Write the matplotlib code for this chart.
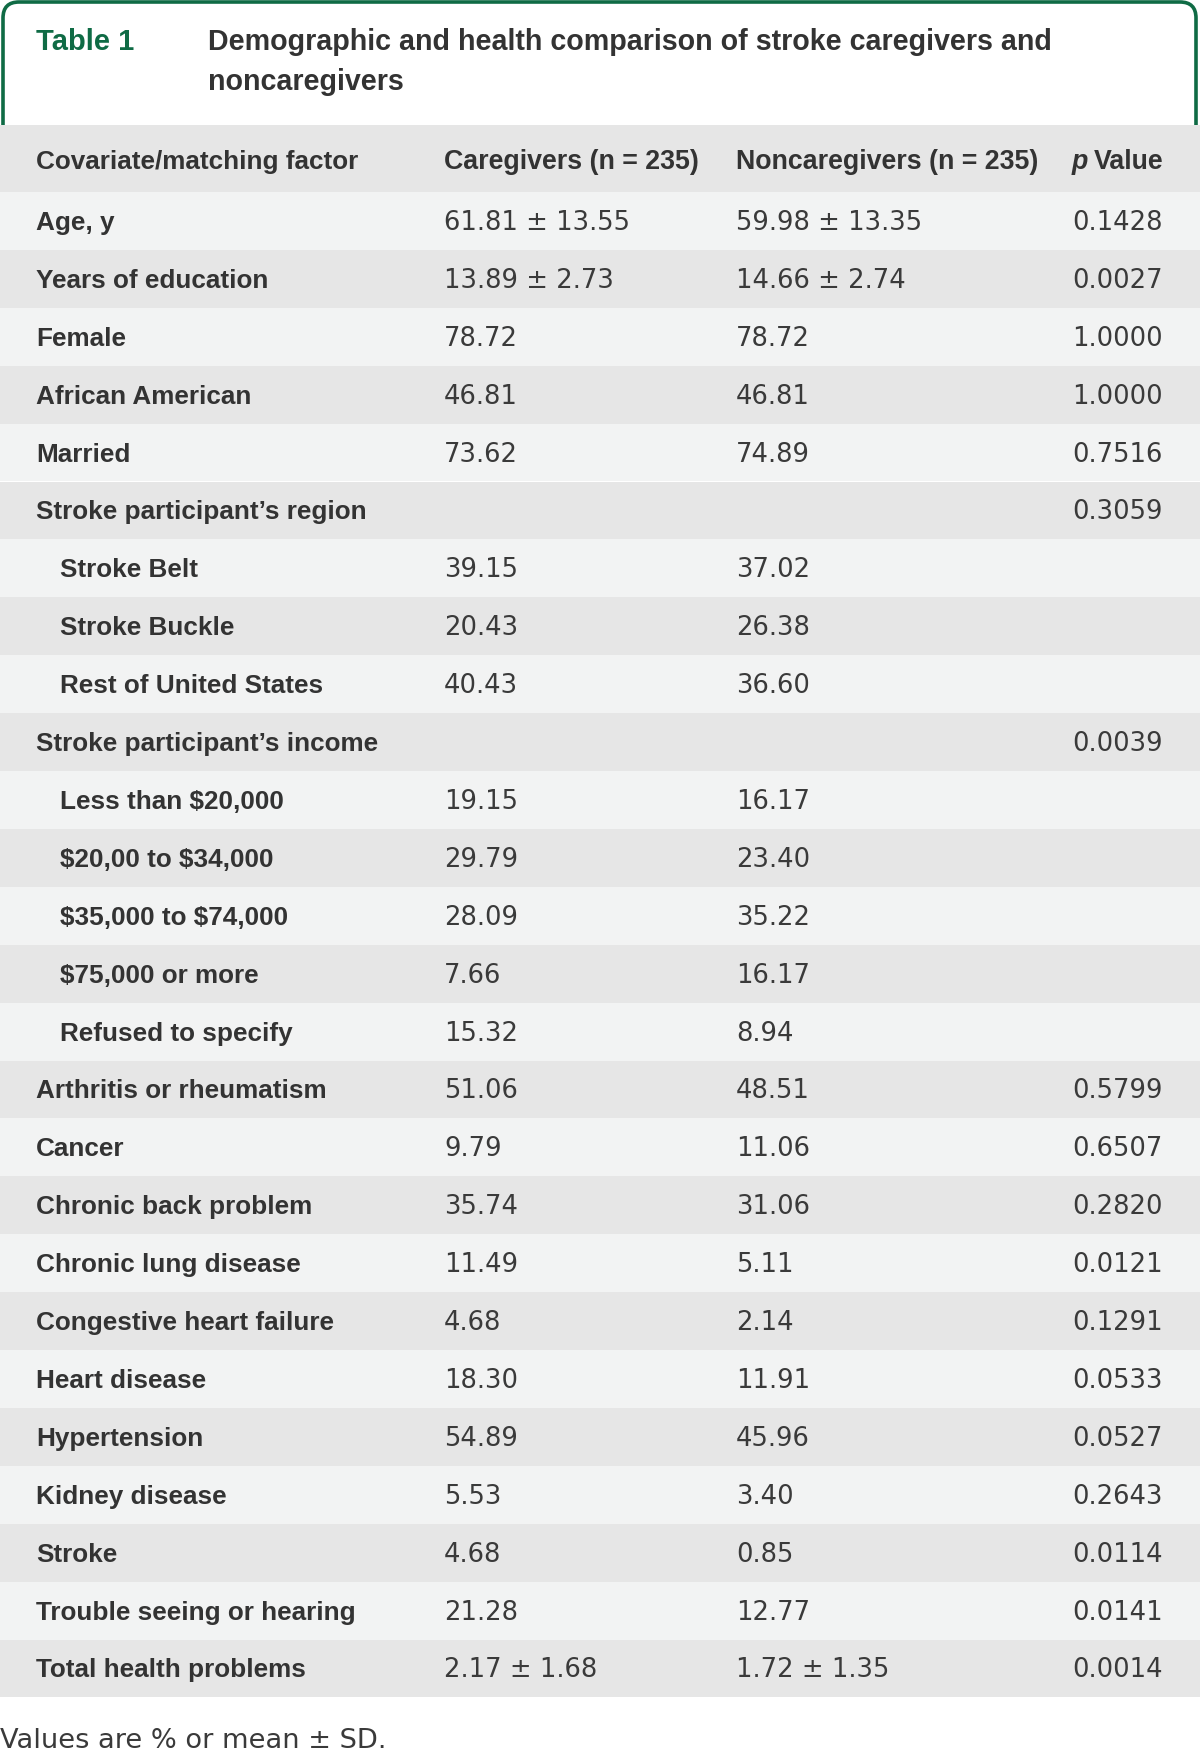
import matplotlib
matplotlib.use("Agg")
import matplotlib.pyplot as plt
import matplotlib.patches as mpatches
from matplotlib.path import Path

plt.rcParams['font.family'] = ['Liberation Sans', 'DejaVu Sans']
plt.rcParams['text.parse_math'] = False

# table content
title_tag = 'Table 1'
title_lines = ['Demographic and health comparison of stroke caregivers and',
               'noncaregivers']
col_headers = ['Covariate/matching factor', 'Caregivers (n = 235)',
               'Noncaregivers (n = 235)']
footnote = 'Values are % or mean \u00b1 SD.'

row_labels = ['Age, y', 'Years of education', 'Female', 'African American',
              'Married', "Stroke participant\u2019s region", 'Stroke Belt',
              'Stroke Buckle', 'Rest of United States',
              "Stroke participant\u2019s income", 'Less than $20,000',
              '$20,00 to $34,000', '$35,000 to $74,000', '$75,000 or more',
              'Refused to specify', 'Arthritis or rheumatism', 'Cancer',
              'Chronic back problem', 'Chronic lung disease',
              'Congestive heart failure', 'Heart disease', 'Hypertension',
              'Kidney disease', 'Stroke', 'Trouble seeing or hearing',
              'Total health problems']
indented = [False, False, False, False, False, False, True, True, True,
            False, True, True, True, True, True, False, False, False, False,
            False, False, False, False, False, False, False]
caregivers = ['61.81 \u00b1 13.55', '13.89 \u00b1 2.73', '78.72', '46.81',
              '73.62', '', '39.15', '20.43', '40.43', '', '19.15', '29.79',
              '28.09', '7.66', '15.32', '51.06', '9.79', '35.74', '11.49',
              '4.68', '18.30', '54.89', '5.53', '4.68', '21.28',
              '2.17 \u00b1 1.68']
noncaregivers = ['59.98 \u00b1 13.35', '14.66 \u00b1 2.74', '78.72', '46.81',
                 '74.89', '', '37.02', '26.38', '36.60', '', '16.17', '23.40',
                 '35.22', '16.17', '8.94', '48.51', '11.06', '31.06', '5.11',
                 '2.14', '11.91', '45.96', '3.40', '0.85', '12.77',
                 '1.72 \u00b1 1.35']
p_values = ['0.1428', '0.0027', '1.0000', '1.0000', '0.7516', '0.3059', '',
            '', '', '0.0039', '', '', '', '', '', '0.5799', '0.6507', '0.2820',
            '0.0121', '0.1291', '0.0533', '0.0527', '0.2643', '0.0114',
            '0.0141', '0.0014']

# styles
W, H = 1200, 1751
green = '#0f6b45'
text_col = '#333333'
val_col = '#3a3a3a'
dark_row = '#e6e6e6'
light_row = '#f2f3f3'
fs_lab = 18.8
fs_head = 19.3
fs_val = 18.6
val_font = ['DejaVu Sans']

fig = plt.figure(figsize=(W / 100, H / 100), dpi=100)
ax = fig.add_axes([0, 0, 1, 1])
ax.set_xlim(0, W)
ax.set_ylim(H, 0)
ax.axis('off')

# green title frame, open at the bottom, rounded top corners
r = 16
x0, x1, y0, yb = 3, 1196, 2, 125
verts = [(x0, yb), (x0, y0 + r), (x0, y0), (x0 + r, y0), (x1 - r, y0),
         (x1, y0), (x1, y0 + r), (x1, yb)]
codes = [Path.MOVETO, Path.LINETO, Path.CURVE3, Path.CURVE3, Path.LINETO,
         Path.CURVE3, Path.CURVE3, Path.LINETO]
ax.add_patch(mpatches.PathPatch(Path(verts, codes), fill=False,
                                edgecolor=green, linewidth=2.6))

ax.text(36, 42, title_tag, color=green, fontsize=21, fontweight='bold',
        va='center', ha='left')
for i, line in enumerate(title_lines):
    ax.text(208, 42 + i * 40, line, color=text_col, fontsize=20.6,
            fontweight='bold', va='center', ha='left')

# column positions
x_label, x_indent, x_care, x_non, x_p = 36, 60, 444, 736, 1163

# header row, all header texts share one baseline
head_top, head_h, row_h = 125, 67, 57.9
ax.add_patch(mpatches.Rectangle((0, head_top), W, head_h, color=dark_row,
                                lw=0))
hb = head_top + 44
ax.text(x_label, hb, col_headers[0], color=text_col, fontsize=fs_lab,
        fontweight='bold', va='baseline')
ax.text(x_care, hb, col_headers[1], color=text_col, fontsize=fs_head,
        fontweight='bold', va='baseline')
ax.text(x_non, hb, col_headers[2], color=text_col, fontsize=fs_head,
        fontweight='bold', va='baseline')
ax.text(x_p, hb, 'Value', color=text_col, fontsize=fs_head, fontweight='bold',
        va='baseline', ha='right')
ax.text(1072, hb, 'p', color=text_col, fontsize=fs_head, fontweight='bold',
        fontstyle='italic', va='baseline', ha='left')

# body rows
top = head_top + head_h
for i, label in enumerate(row_labels):
    y = top + i * row_h
    ax.add_patch(mpatches.Rectangle((0, y), W, row_h,
                                    color=light_row if i % 2 == 0 else dark_row,
                                    lw=0))
    cy = y + row_h / 2 + 2
    ax.text(x_indent if indented[i] else x_label, cy, label, color=text_col,
            fontsize=fs_lab, fontweight='bold', va='center')
    ax.text(x_care, cy, caregivers[i], color=val_col, fontsize=fs_val,
            family=val_font, va='center')
    ax.text(x_non, cy, noncaregivers[i], color=val_col, fontsize=fs_val,
            family=val_font, va='center')
    ax.text(x_p, cy, p_values[i], color=val_col, fontsize=fs_val,
            family=val_font, va='center', ha='right')

ax.text(0, top + len(row_labels) * row_h + 44, footnote, color=val_col,
        fontsize=19.6, family=val_font, va='center', ha='left')

fig.savefig('out.png', dpi=100)
